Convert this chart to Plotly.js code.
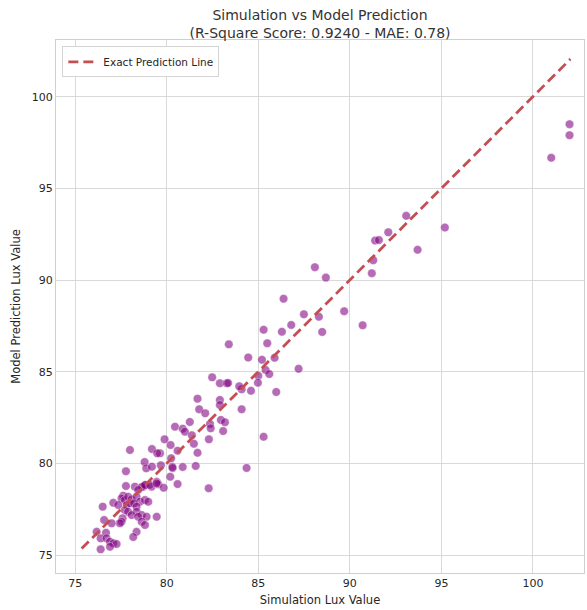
<!DOCTYPE html>
<html>
<head>
<meta charset="utf-8">
<script src="https://cdn.plot.ly/plotly-3.0.1.min.js"></script>
<style>
  html, body { margin: 0; padding: 0; background: #ffffff; }
  #chart { width: 587px; height: 610px; }
</style>
</head>
<body>
<div id="chart"></div>
<script>
// Simulated lux (x) against model-predicted lux (y) for the test samples
const simulationLux = [
  102.0, 102.0, 101.0, 93.08, 95.19, 93.7, 91.38, 91.59, 92.1, 91.28,
  91.2, 89.69, 90.7, 88.09, 88.69, 86.38, 87.49, 88.31, 88.49, 86.8,
  86.29, 85.29, 85.49, 85.89, 85.2, 87.2, 85.4, 85.6, 85.0, 84.98,
  84.6, 85.98, 84.45, 85.29, 84.09, 83.39, 82.48, 82.9, 83.27, 83.35,
  83.96, 81.68, 82.9, 82.9, 81.77, 82.1, 84.09, 81.26, 82.36, 82.4,
  82.96, 83.18, 83.08, 80.45, 80.87, 80.99, 81.37, 81.48, 82.3, 79.88,
  80.21, 80.59, 81.68, 79.63, 84.36, 77.99, 79.19, 79.48, 80.24, 78.79,
  78.88, 79.19, 79.68, 80.3, 80.32, 80.87, 81.58, 80.19, 80.59, 82.29,
  79.45, 79.53, 78.85, 78.26, 78.71, 79.17, 77.77, 77.77, 79.83,
  78.63, 78.81, 79.08, 79.45, 78.44, 77.62, 77.53, 77.71, 77.89, 78.08,
  78.35, 78.53, 78.81, 78.99, 77.08, 77.35, 77.81, 77.99, 78.21, 78.35,
  77.71, 77.89, 78.35, 78.08, 78.63, 78.44, 78.9, 79.45, 76.5, 77.59,
  77.53, 77.44, 76.58, 76.99, 78.63, 78.81, 78.35, 78.17, 76.17, 76.68,
  76.39, 76.71, 76.9, 77.08, 77.26, 76.9, 76.39
];
const predictedLux = [
  98.5, 97.9, 96.67, 93.5, 92.86, 91.65, 92.15, 92.18, 92.6, 91.08,
  90.37, 88.3, 87.53, 90.7, 90.13, 88.98, 88.13, 88.0, 87.17, 87.55,
  87.18, 87.29, 86.55, 85.76, 85.65, 85.16, 85.09, 84.87, 84.78, 84.4,
  83.96, 83.89, 85.77, 81.45, 84.04, 86.49, 84.69, 84.37, 84.37, 84.38,
  84.2, 83.53, 83.46, 83.18, 82.95, 82.73, 82.95, 82.26, 82.15, 81.91,
  82.37, 82.24, 81.76, 82.0, 81.89, 81.73, 81.53, 81.07, 81.31, 81.31,
  81.0, 80.69, 80.58, 80.55, 79.75, 80.73, 80.78, 80.55, 80.28, 80.07,
  79.73, 79.82, 79.89, 79.82, 79.75, 79.8, 79.86, 79.27, 78.87, 78.64,
  79.0, 78.86, 78.82, 78.73, 78.73, 78.73, 79.57, 78.76, 78.67,
  78.71, 78.82, 78.82, 78.91, 78.55, 78.24, 78.09, 78.0, 78.18, 78.04,
  78.18, 77.91, 78.0, 77.91, 77.85, 77.73, 77.73, 77.82, 77.82, 77.64,
  77.45, 77.36, 77.36, 77.18, 77.18, 77.09, 77.09, 77.09, 77.64, 77.0,
  76.82, 76.73, 76.91, 76.73, 76.82, 76.64, 76.27, 75.98, 76.27, 76.22,
  75.91, 75.91, 75.73, 75.64, 75.6, 75.45, 75.31
];

// Endpoints of the y = x reference line
const exactLine = [75.35, 102.05];

const axisTicks = [75, 80, 85, 90, 95, 100];

const textColor = '#262626';
const gridColor = '#d9d9d9';
const baseFont = 'DejaVu Sans, sans-serif';

const points = {
  x: simulationLux,
  y: predictedLux,
  type: 'scatter',
  mode: 'markers',
  showlegend: false,
  marker: {
    color: 'rgba(128,0,128,0.58)',
    size: 8.5,
    line: { color: 'rgba(255,255,255,0.6)', width: 0.6 }
  },
  hoverinfo: 'x+y'
};

const reference = {
  x: exactLine,
  y: exactLine,
  type: 'scatter',
  mode: 'lines',
  name: 'Exact Prediction Line',
  line: { color: '#c44e52', width: 2.8, dash: '10px,5px' }
};

const axisCommon = {
  tickvals: axisTicks,
  ticktext: axisTicks.map(String),
  showgrid: true,
  gridcolor: gridColor,
  gridwidth: 1,
  zeroline: false,
  showline: true,
  mirror: true,
  linecolor: '#cfcfcf',
  linewidth: 1,
  ticks: '',
  tickfont: { family: baseFont, size: 11, color: textColor }
};

const layout = {
  width: 587,
  height: 610,
  margin: { l: 56, r: 3, t: 40, b: 37 },
  paper_bgcolor: '#ffffff',
  plot_bgcolor: '#ffffff',
  font: { family: baseFont, color: textColor },
  title: {
    text: 'Simulation vs Model Prediction<br>(R-Square Score: 0.9240 - MAE: 0.78)',
    font: { family: baseFont, size: 14, color: '#333333' },
    x: 0.5,
    xref: 'paper',
    xanchor: 'center',
    y: 1.011,
    yref: 'paper',
    yanchor: 'bottom'
  },
  xaxis: Object.assign({}, axisCommon, {
    range: [73.95, 102.79],
    title: { text: 'Simulation Lux Value', font: { family: baseFont, size: 11.5, color: textColor }, standoff: 6 }
  }),
  yaxis: Object.assign({}, axisCommon, {
    range: [74.02, 103.09],
    title: { text: 'Model Prediction Lux Value', font: { family: baseFont, size: 11.5, color: textColor }, standoff: 8 }
  }),
  legend: {
    x: 0.012,
    y: 0.988,
    xanchor: 'left',
    yanchor: 'top',
    bgcolor: '#ffffff',
    bordercolor: '#d4d4d4',
    borderwidth: 1,
    itemwidth: 30,
    tracegroupgap: 0,
    font: { family: baseFont, size: 10.5, color: textColor }
  },
  showlegend: true
};

Plotly.newPlot('chart', [points, reference], layout, { displayModeBar: false, staticPlot: true });
</script>
</body>
</html>
